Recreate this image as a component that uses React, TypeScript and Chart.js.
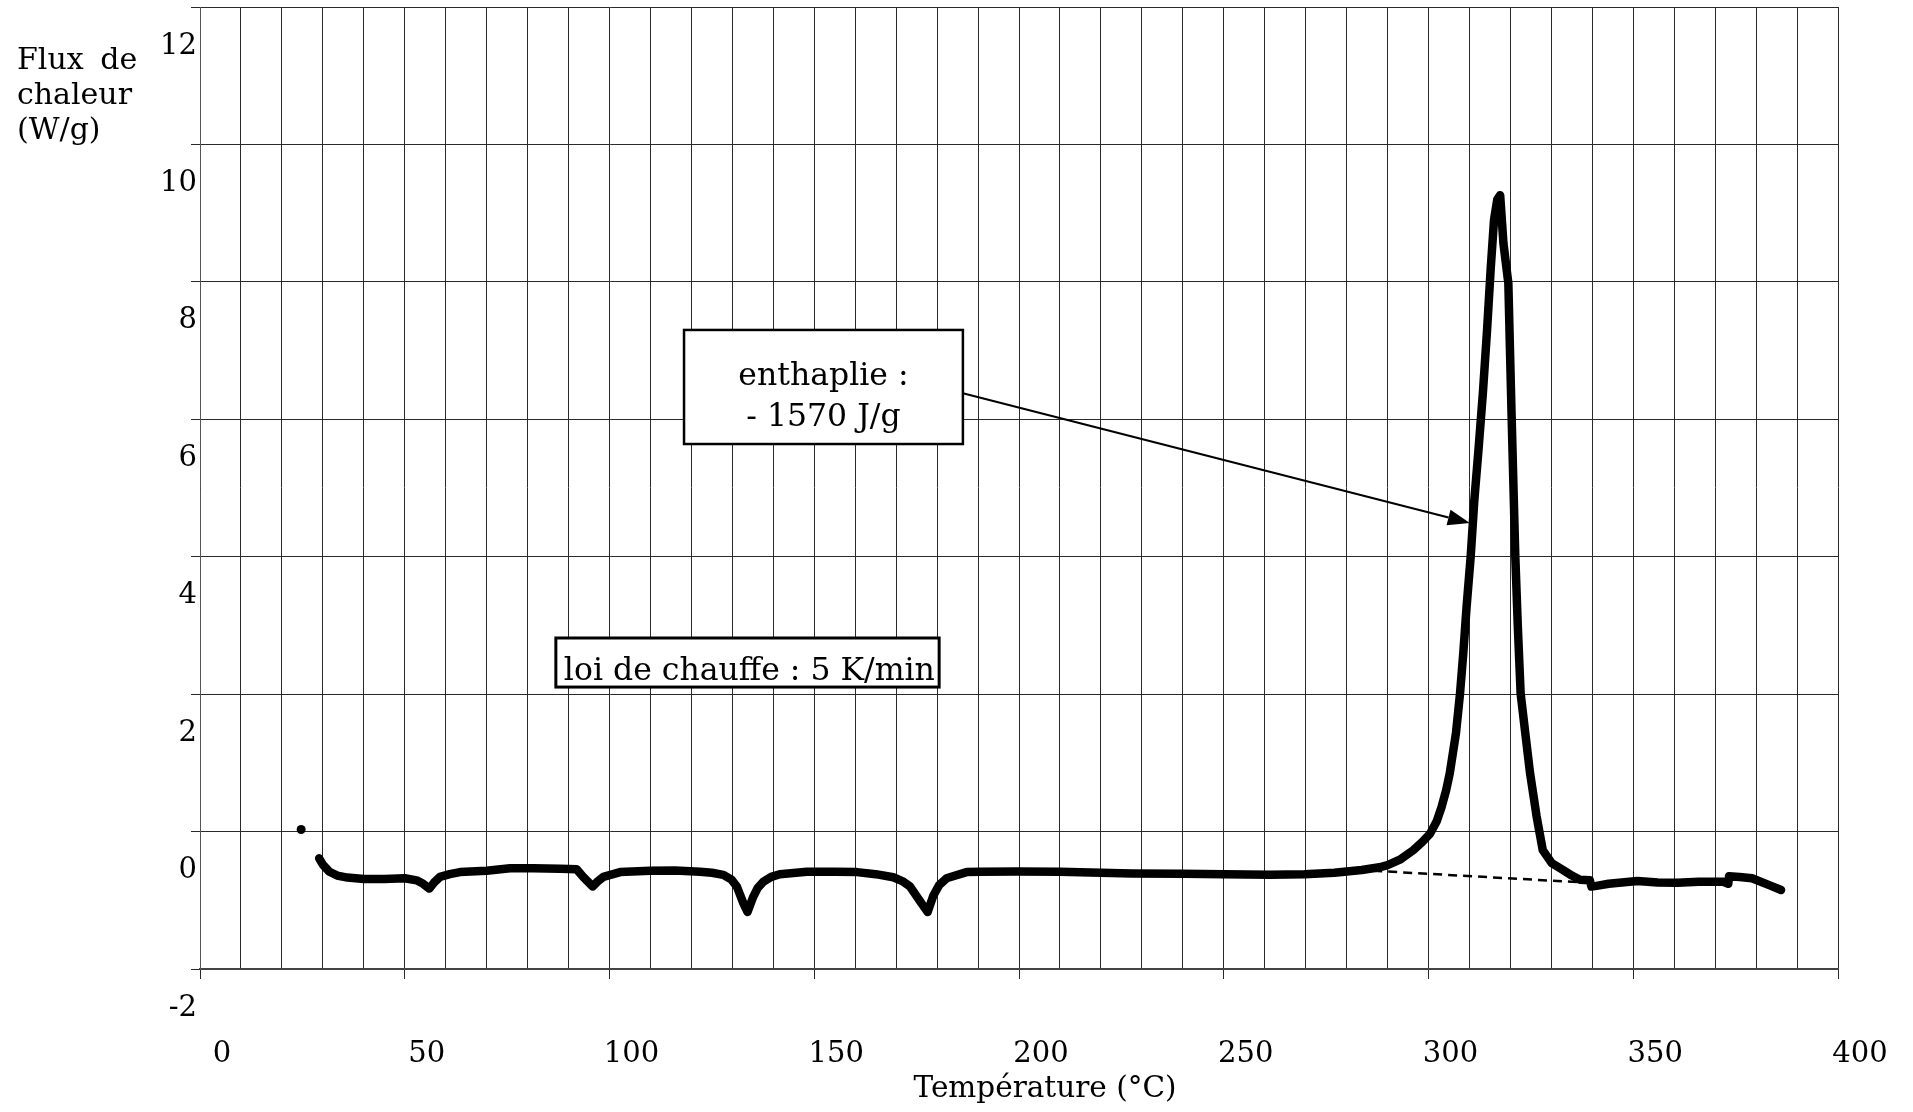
import React, { useEffect, useRef } from 'react';
import { Chart, registerables } from 'chart.js';

Chart.register(...registerables);

// ---- data ----
const temperature = [
  29.1, 30.0, 31.5, 33.5, 36, 40, 45, 50, 52.9, 54.5, 56.0, 57.2, 58.6, 61, 63.5, 70, 75.7, 81.4, 88, 92,
  93.6, 95.9, 97.2, 98.5, 102.6, 109.9, 116, 122.1, 125, 127.8, 129.8, 131.1, 132.7, 133.7, 135.1, 136.2,
  137.6, 139.5, 141.6, 148.2, 155, 160.4, 165, 169.3, 171.5, 173.4, 176.2, 177.7, 179.1, 180.5, 182.3,
  187.2, 190.5, 199.6, 210, 220, 227.6, 240, 250, 261.3, 269.7, 277, 283.7, 288, 290, 293.0, 296.3, 298.5,
  300.4, 302, 303.2, 304.3, 305.2, 306.7, 307.7, 308.5, 309.3, 310.3, 311.2, 312.2, 313.3, 314.3, 315.2,
  316.0, 316.8, 317.5, 318.3, 319.5, 319.9, 320.3, 320.8, 321.2, 321.8, 322.5, 323.6, 324.8, 326.4, 327.9,
  330.1, 332.9, 335, 337.0, 339.4, 339.8, 341, 344, 351, 356, 360.8, 366, 372, 373.2, 373.4, 376, 379, 383.2,
  386.1,
];
const heatFlow = [
  -0.39, -0.48, -0.58, -0.64, -0.67, -0.69, -0.69, -0.68, -0.71, -0.76, -0.83, -0.74, -0.66, -0.62, -0.59,
  -0.57, -0.535, -0.535, -0.54, -0.55, -0.66, -0.8, -0.72, -0.66, -0.59, -0.57, -0.565, -0.585, -0.6, -0.63,
  -0.7, -0.8, -1.045, -1.17, -0.95, -0.82, -0.73, -0.66, -0.62, -0.585, -0.585, -0.59, -0.62, -0.665, -0.72,
  -0.8, -1.045, -1.17, -0.93, -0.78, -0.68, -0.59, -0.585, -0.58, -0.585, -0.6, -0.61, -0.615, -0.62, -0.63,
  -0.62, -0.6, -0.56, -0.52, -0.49, -0.41, -0.27, -0.15, -0.03, 0.15, 0.36, 0.6, 0.85, 1.43, 2.01, 2.6, 3.27,
  4.0, 4.83, 5.55, 6.4, 7.3, 8.2, 8.9, 9.2, 9.26, 8.56, 7.98, 7.0, 6.04, 4.9, 4.0, 3.0, 2.01, 1.45, 0.85,
  0.22, -0.27, -0.46, -0.56, -0.64, -0.7, -0.71, -0.8, -0.79, -0.76, -0.72, -0.74, -0.745, -0.73, -0.73,
  -0.76, -0.65, -0.66, -0.68, -0.78, -0.85,
];
const baselineTemperature = [286.5, 339.1];
const baselineFlow = [-0.57, -0.745];
const startDotTemperature = [24.7];
const startDotFlow = [0.03];

const xMin = 0;
const xMax = 400;
const xGridStep = 10;
const xLabelStep = 50;
const yMin = -2;
const yMax = 12;
const yStep = 2;

const yAxisTitleLines = ['Flux de', 'chaleur', '(W/g)'];
const xAxisTitle = 'Température (°C)';
const enthalpyLines = ['enthaplie :', '- 1570 J/g'];
const heatingRateText = 'loi de chauffe : 5 K/min';

// annotation anchors in data units
const enthalpyBox = { x0: 118.2, x1: 186.3, y0: 7.3, y1: 5.64 };
const heatingBox = { x0: 86.9, x1: 180.5, y0: 2.817, y1: 2.103 };
const arrowFrom = { x: 186.3, y: 6.38 };
const arrowTo = { x: 310.1, y: 4.49 };

const FONT = '"DejaVu Serif", serif';
const TICK_FONT_SIZE = 29;
const TEXT_FONT_SIZE = 31.5;
const GRID = '#2a2a2a';

const annotationPlugin = {
  id: 'annotations',
  afterDatasetsDraw(chart: any) {
    const { ctx } = chart;
    const xs = chart.scales.x;
    const ys = chart.scales.y;
    const px = (v: number) => xs.getPixelForValue(v);
    const py = (v: number) => ys.getPixelForValue(v);
    ctx.save();
    ctx.fillStyle = '#000';
    ctx.strokeStyle = '#000';
    ctx.textBaseline = 'alphabetic';

    // y axis title (top-left)
    ctx.font = `30px ${FONT}`;
    ctx.textAlign = 'left';
    yAxisTitleLines.forEach((line, i) => {
      (ctx as any).wordSpacing = i === 0 ? '7px' : '0px';
      ctx.fillText(line, 17, 69 + i * 35);
    });
    (ctx as any).wordSpacing = '0px';

    // x axis title
    ctx.font = `29.5px ${FONT}`;
    ctx.textAlign = 'center';
    ctx.fillText(xAxisTitle, 1045, 1097);

    ctx.font = `${TEXT_FONT_SIZE}px ${FONT}`;
    // enthalpy box
    {
      const l = px(enthalpyBox.x0), r = px(enthalpyBox.x1);
      const t = py(enthalpyBox.y0), b = py(enthalpyBox.y1);
      ctx.fillStyle = '#fff';
      ctx.fillRect(l, t, r - l, b - t);
      ctx.lineWidth = 2.5;
      ctx.strokeRect(l, t, r - l, b - t);
      ctx.fillStyle = '#000';
      ctx.textAlign = 'center';
      const cx = (l + r) / 2;
      ctx.fillText(enthalpyLines[0], cx, t + 55);
      ctx.fillText(enthalpyLines[1], cx, t + 96);
    }

    // heating rate box
    {
      const l = px(heatingBox.x0), r = px(heatingBox.x1);
      const t = py(heatingBox.y0), b = py(heatingBox.y1);
      ctx.fillStyle = '#fff';
      ctx.fillRect(l, t, r - l, b - t);
      ctx.lineWidth = 3;
      ctx.strokeRect(l, t, r - l, b - t);
      ctx.fillStyle = '#000';
      ctx.textAlign = 'left';
      ctx.fillText(heatingRateText, l + 8, t + 42);
    }

    // arrow
    {
      const x0 = px(arrowFrom.x), y0 = py(arrowFrom.y);
      const x1 = px(arrowTo.x), y1 = py(arrowTo.y);
      const ang = Math.atan2(y1 - y0, x1 - x0);
      const len = 22, half = 8;
      const bx = x1 - len * Math.cos(ang), by = y1 - len * Math.sin(ang);
      ctx.lineWidth = 2;
      ctx.beginPath();
      ctx.moveTo(x0, y0);
      ctx.lineTo(bx, by);
      ctx.stroke();
      ctx.beginPath();
      ctx.moveTo(x1, y1);
      ctx.lineTo(bx + half * Math.sin(ang), by - half * Math.cos(ang));
      ctx.lineTo(bx - half * Math.sin(ang), by + half * Math.cos(ang));
      ctx.closePath();
      ctx.fill();
    }
    ctx.restore();
  },
};

export default function App() {
  const canvasRef = useRef<HTMLCanvasElement | null>(null);

  useEffect(() => {
    const canvas = canvasRef.current;
    if (!canvas) return;
    const mainData = temperature.map((t, i) => ({ x: t, y: heatFlow[i] }));
    const baseData = baselineTemperature.map((t, i) => ({ x: t, y: baselineFlow[i] }));
    const dotData = startDotTemperature.map((t, i) => ({ x: t, y: startDotFlow[i] }));

    const chart = new Chart(canvas, {
      type: 'line',
      data: {
        datasets: [
          {
            data: baseData,
            borderColor: '#000',
            borderWidth: 2.5,
            borderDash: [9, 6],
            pointRadius: 0,
            fill: false,
          },
          {
            data: mainData,
            borderColor: '#000',
            borderWidth: 8.5,
            borderJoinStyle: 'round',
            borderCapStyle: 'round',
            pointRadius: 0,
            tension: 0,
            fill: false,
          },
          {
            data: dotData,
            showLine: false,
            pointRadius: 4.5,
            pointBackgroundColor: '#000',
            pointBorderColor: '#000',
            pointBorderWidth: 0,
          },
        ],
      },
      options: {
        animation: false,
        responsive: false,
        devicePixelRatio: 1,
        layout: { padding: { left: 0, top: 7, right: 75, bottom: 0 } },
        plugins: {
          legend: { display: false },
          tooltip: { enabled: false },
        },
        scales: {
          x: {
            type: 'linear',
            min: xMin,
            max: xMax,
            afterFit: (s: any) => {
              s.height = 143;
              s.paddingLeft = 0;
              s.paddingRight = 0;
            },
            ticks: {
              stepSize: xGridStep,
              autoSkip: false,
              maxRotation: 0,
              minRotation: 0,
              labelOffset: 22,
              padding: 58,
              color: '#000',
              font: { family: FONT, size: TICK_FONT_SIZE },
              callback: (v: any) => (Number(v) % xLabelStep === 0 ? String(v) : ''),
            },
            grid: {
              color: GRID,
              lineWidth: 1,
              tickLength: 10,
              tickColor: (c: any) =>
                c.tick && c.tick.value % xLabelStep === 0 ? GRID : 'rgba(0,0,0,0)',
            },
            border: { color: '#444', width: 2 },
          },
          y: {
            type: 'linear',
            min: yMin,
            max: yMax,
            afterFit: (s: any) => {
              s.width = 200;
              s.paddingTop = 0;
              s.paddingBottom = 0;
            },
            ticks: {
              stepSize: yStep,
              labelOffset: 39,
              padding: -6,
              color: '#000',
              font: { family: FONT, size: TICK_FONT_SIZE },
            },
            grid: { color: GRID, lineWidth: 1, tickLength: 9, tickColor: GRID },
            border: { color: '#555', width: 1 },
          },
        },
      },
      plugins: [annotationPlugin],
    } as any);

    return () => chart.destroy();
  }, []);

  return (
    <div style={{ position: 'absolute', left: 0, top: 0, width: 1913, height: 1112, background: '#fff' }}>
      <canvas ref={canvasRef} width={1913} height={1112} style={{ display: 'block' }} />
    </div>
  );
}
